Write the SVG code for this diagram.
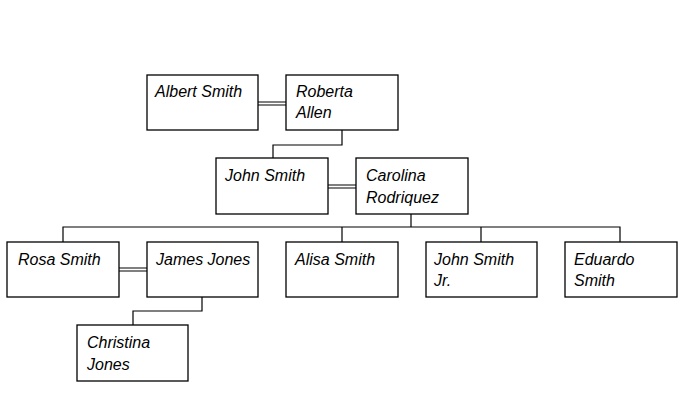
<svg xmlns="http://www.w3.org/2000/svg" width="700" height="417" viewBox="0 0 700 417">
<style>
.box{fill:#fff;stroke:#000;stroke-width:1.3}
.ln{fill:none;stroke:#000;stroke-width:1.2}
text{font-family:"Liberation Sans",Arial,sans-serif;font-size:16px;font-style:italic;fill:#000}
</style>
<rect width="700" height="417" fill="#fff"/>
<g id="connectors">
<path class="ln" d="M258 102H286M258 105H286"/>
<path class="ln" d="M342 130V145H273V158"/>
<path class="ln" d="M328 185H356M328 188H356"/>
<path class="ln" d="M411 214V227"/>
<path class="ln" d="M63 242V227H620V242M342 227V242M481 227V242"/>
<path class="ln" d="M119 268H147M119 271H147"/>
<path class="ln" d="M202 297V311H133V325"/>
</g>
<g id="albert"><rect class="box" x="147" y="75" width="111" height="55"/><text x="155" y="97">Albert Smith</text></g>
<g id="roberta"><rect class="box" x="286" y="75" width="112" height="55"/><text x="296" y="97">Roberta</text><text x="296" y="118">Allen</text></g>
<g id="john"><rect class="box" x="216" y="158" width="112" height="56"/><text x="225" y="181">John Smith</text></g>
<g id="carolina"><rect class="box" x="356" y="158" width="112" height="56"/><text x="366" y="181">Carolina</text><text x="366" y="203">Rodriquez</text></g>
<g id="rosa"><rect class="box" x="7" y="242" width="112" height="55"/><text x="18" y="265">Rosa Smith</text></g>
<g id="james"><rect class="box" x="147" y="242" width="111" height="55"/><text x="156" y="265">James Jones</text></g>
<g id="alisa"><rect class="box" x="286" y="242" width="112" height="55"/><text x="295" y="265">Alisa Smith</text></g>
<g id="johnjr"><rect class="box" x="426" y="242" width="111" height="55"/><text x="434" y="265">John Smith</text><text x="434" y="286">Jr.</text></g>
<g id="eduardo"><rect class="box" x="565" y="242" width="112" height="55"/><text x="574" y="265">Eduardo</text><text x="574" y="286">Smith</text></g>
<g id="christina"><rect class="box" x="77" y="325" width="111" height="56"/><text x="87" y="348">Christina</text><text x="87" y="370">Jones</text></g>
</svg>
